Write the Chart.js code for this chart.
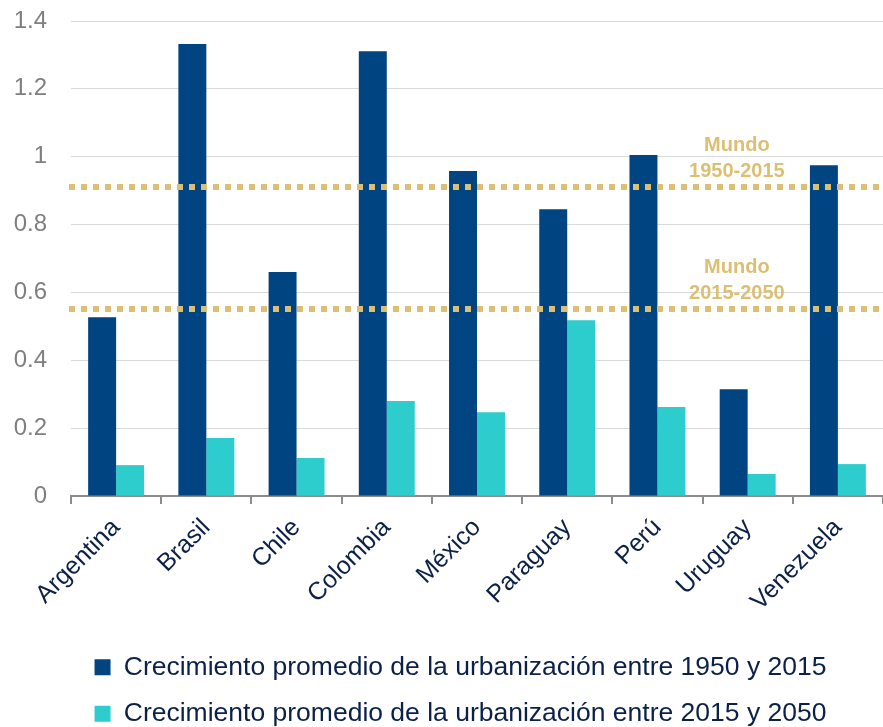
<!DOCTYPE html>
<html>
<head>
<meta charset="utf-8">
<script src="https://cdn.jsdelivr.net/npm/chart.js@4.4.1/dist/chart.umd.min.js"></script>
<style>
  html, body { margin: 0; padding: 0; background: #fff; }
  #wrap { width: 883px; height: 727px; position: relative; }
</style>
</head>
<body>
<div id="wrap"><canvas id="chart"></canvas></div>
<script>
// datos
const countries = ['Argentina', 'Brasil', 'Chile', 'Colombia', 'México', 'Paraguay', 'Perú', 'Uruguay', 'Venezuela'];
const growth1950_2015 = [0.527, 1.332, 0.66, 1.311, 0.958, 0.845, 1.005, 0.315, 0.975];
const growth2015_2050 = [0.091, 0.171, 0.112, 0.28, 0.247, 0.518, 0.262, 0.065, 0.094];
const seriesNames = [
  'Crecimiento promedio de la urbanización entre 1950 y 2015',
  'Crecimiento promedio de la urbanización entre 2015 y 2050'
];
// referencias mundiales
const worldValues = [0.91, 0.55];
const worldLabels = [['Mundo', '1950-2015'], ['Mundo', '2015-2050']];
const yTicks = [0, 0.2, 0.4, 0.6, 0.8, 1, 1.2, 1.4];

const NAVY = '#0b2148';
const GOLD = '#dbbf72';
const FONT = '"Liberation Sans", Arial, sans-serif';

// líneas punteadas + etiquetas "Mundo"
const worldPlugin = {
  id: 'worldPlugin',
  afterDatasetsDraw(chart) {
    const ctx = chart.ctx;
    const y = chart.scales.y;
    const area = chart.chartArea;
    ctx.save();
    worldValues.forEach((v, i) => {
      const py = Math.round(y.getPixelForValue(v));
      ctx.strokeStyle = GOLD;
      ctx.lineWidth = 6;
      ctx.setLineDash([6, 6]);
      ctx.lineCap = 'butt';
      ctx.beginPath();
      ctx.moveTo(area.left - 2, py);
      ctx.lineTo(area.right, py);
      ctx.stroke();

      ctx.setLineDash([]);
      ctx.fillStyle = GOLD;
      ctx.font = 'bold 20px ' + FONT;
      ctx.textAlign = 'center';
      ctx.textBaseline = 'middle';
      const tx = area.left + 0.82 * (area.right - area.left);
      ctx.fillText(worldLabels[i][0], tx, py - 42);
      ctx.fillText(worldLabels[i][1], tx, py - 16);
    });
    ctx.restore();
  }
};

// mover la leyenda un poco (a la derecha y abajo) como en el original
const legendShift = {
  id: 'legendShift',
  afterLayout(chart) {
    const lg = chart.legend;
    if (!lg) return;
    lg.left += 19; lg.right += 19;
    lg.top += 10; lg.bottom += 10;
  }
};

new Chart(document.getElementById('chart'), {
  type: 'bar',
  data: {
    labels: countries,
    datasets: [
      { label: seriesNames[0], data: growth1950_2015, backgroundColor: '#004481', borderWidth: 0 },
      { label: seriesNames[1], data: growth2015_2050, backgroundColor: '#2dcccd', borderWidth: 0 }
    ]
  },
  options: {
    responsive: true,
    maintainAspectRatio: false,
    animation: false,
    layout: { padding: { top: 21, left: 0, right: 0, bottom: 0 } },
    datasets: { bar: { categoryPercentage: 0.62, barPercentage: 1.0 } },
    scales: {
      x: {
        grid: { display: true, offset: true, drawOnChartArea: false, drawTicks: true, tickLength: 8, color: '#8c8c8c', lineWidth: 2 },
        border: { display: true, color: '#8c8c8c', width: 2 },
        ticks: {
          color: NAVY,
          font: { family: FONT, size: 25 },
          minRotation: 45, maxRotation: 45, padding: 9, autoSkip: false
        },
        afterFit(scale) { scale.height = 128; }
      },
      y: {
        min: 0, max: 1.4,
        afterBuildTicks(scale) { scale.ticks = yTicks.map(v => ({ value: v })); },
        grid: { color: '#d9d9d9', lineWidth: 1, drawTicks: false },
        border: { display: false },
        ticks: {
          color: '#7f7f7f',
          font: { family: FONT, size: 24 },
          padding: 24,
          callback: v => String(v)
        },
        afterFit(scale) {
          scale.width = 71;
          scale.paddingTop = 0;
          scale.paddingBottom = 0;
        }
      }
    },
    plugins: {
      legend: {
        position: 'bottom',
        labels: {
          color: NAVY,
          font: { family: FONT, size: 26.5 },
          boxWidth: 16, boxHeight: 16, padding: 20
        }
      },
      tooltip: { enabled: false }
    }
  },
  plugins: [worldPlugin, legendShift]
});
</script>
</body>
</html>
